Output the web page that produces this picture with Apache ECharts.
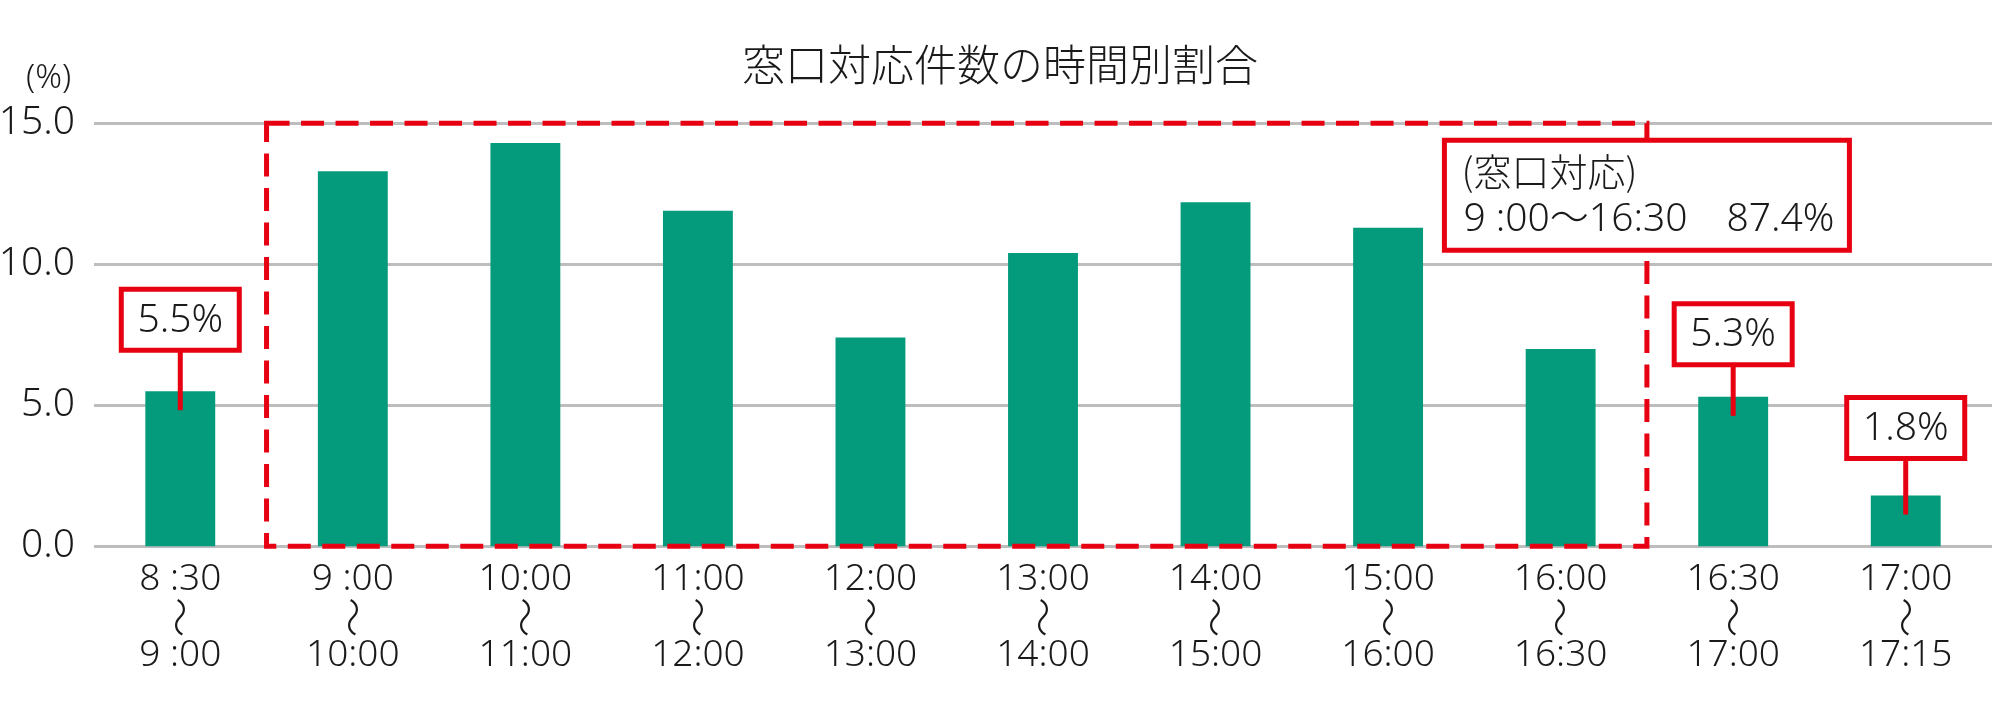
<!DOCTYPE html>
<html>
<head>
<meta charset="utf-8">
<script src="https://cdn.jsdelivr.net/npm/echarts@6/dist/echarts.min.js"></script>
<style>
html,body{margin:0;padding:0;background:#fff;}
#chart{width:2000px;height:708px;}
</style>
</head>
<body>
<div id="chart"></div>
<script>
// ---- data ----
const chartTitle = '窓口対応件数の時間別割合';
const unitLabel = '(%)';
const startTimes = ['8 :30', '9 :00', '10:00', '11:00', '12:00', '13:00', '14:00', '15:00', '16:00', '16:30', '17:00'];
const endTimes   = ['9 :00', '10:00', '11:00', '12:00', '13:00', '14:00', '15:00', '16:00', '16:30', '17:00', '17:15'];
const rangeMark  = '～';
const shares     = [5.5, 13.3, 14.3, 11.9, 7.4, 10.4, 12.2, 11.3, 7.0, 5.3, 1.8];
const calloutIndex = [0, 9, 10];
const windowRange = [1, 8];
const windowTitle = '(窓口対応)';
const windowText = '9 :00～16:30　87.4%';

// ---- style ----
const RED = '#E60012';
const GREEN = '#039B7B';
const TEXT = '#1a1a1a';
const NUM_FONT = '"Noto Sans", "Noto Sans CJK JP", sans-serif';
const CJK_FONT = '"Noto Sans CJK JP", "Noto Sans", sans-serif';
const calloutLift = {0: 41, 9: 32, 10: 37};

const categories = startTimes.map((s, i) => s + '\n \n' + endTimes[i]);

const chart = echarts.init(document.getElementById('chart'));

function renderCallout(params, api) {
  const idx = api.value(0);
  const v = api.value(1);
  const p = api.coord([idx, v]);
  const lift = calloutLift[idx] !== undefined ? calloutLift[idx] : 35;
  const w = 118, h = 61;
  const bottom = p[1] - lift;
  const top = bottom - h;
  const txt = v.toFixed(1) + '%';
  return {
    type: 'group',
    children: [
      {type: 'line', shape: {x1: p[0], y1: p[1] + 19, x2: p[0], y2: bottom}, style: {stroke: RED, lineWidth: 5}},
      {type: 'rect', shape: {x: p[0] - w / 2, y: top, width: w, height: h}, style: {fill: '#fff', stroke: RED, lineWidth: 5}},
      {type: 'text', style: {text: txt, x: p[0], y: top + h / 2 + 1, align: 'center', verticalAlign: 'middle',
        fontSize: 39, fontWeight: 300, fontFamily: NUM_FONT, fill: TEXT}}
    ]
  };
}

function renderWave(params, api) {
  const p = api.coord([api.value(0), api.value(1)]);
  return {
    type: 'text', x: p[0], y: p[1] + 71, rotation: -Math.PI / 2,
    style: {text: rangeMark, x: 0, y: 0, align: 'center', verticalAlign: 'middle',
      fontSize: 40, fontWeight: 300, fontFamily: CJK_FONT, fill: TEXT}
  };
}

function renderWindow(params, api) {
  const a = api.value(0), b = api.value(2);
  const pTop = api.coord([a, api.value(1)]);
  const pBot = api.coord([b, api.value(3)]);
  const band = api.size([1, 0])[0];
  const left = pTop[0] - band / 2;
  const right = pBot[0] + band / 2;
  const top = pTop[1];
  const bottom = pBot[1];
  const bw = 405, bh = 110;
  const bx = right - bw / 2;
  const by = top + 17;
  return {
    type: 'group',
    children: [
      {type: 'rect', shape: {x: left, y: top, width: right - left, height: bottom - top},
        style: {fill: 'none', stroke: RED, lineWidth: 5, lineDash: [23, 11.5]}},
      {type: 'rect', shape: {x: bx, y: by, width: bw, height: bh}, style: {fill: '#fff', stroke: RED, lineWidth: 5}},
      {type: 'text', style: {text: windowTitle, x: bx + 17, y: by + 31, align: 'left', verticalAlign: 'middle',
        fontSize: 38, fontWeight: 300, fontFamily: CJK_FONT, fill: TEXT}},
      {type: 'text', style: {text: windowText, x: bx + 19, y: by + 80, align: 'left', verticalAlign: 'middle',
        fontSize: 39, fontWeight: 300, fontFamily: NUM_FONT, fill: TEXT}}
    ]
  };
}

chart.setOption({
  animation: false,
  backgroundColor: '#fff',
  title: {
    text: chartTitle, left: 'center', top: 38,
    textStyle: {fontSize: 43, fontWeight: 300, fontFamily: CJK_FONT, color: TEXT}
  },
  graphic: [{
    type: 'text', left: 26, top: 62,
    style: {text: unitLabel, fontSize: 33, fontWeight: 300, fontFamily: NUM_FONT, fill: TEXT}
  }],
  grid: {left: 94, right: 8, top: 123.3, bottom: 161.7, containLabel: false, outerBoundsMode: 'none'},
  xAxis: {
    type: 'category',
    data: categories,
    axisLine: {show: false},
    axisTick: {show: false},
    axisLabel: {
      margin: 14, fontSize: 37, fontWeight: 300, lineHeight: 38, fontFamily: NUM_FONT, color: TEXT, interval: 0
    }
  },
  yAxis: {
    type: 'value', min: 0, max: 15, interval: 5,
    axisLine: {show: false}, axisTick: {show: false},
    splitLine: {lineStyle: {color: '#BDBDBD', width: 3}},
    axisLabel: {margin: 19, fontSize: 39, fontWeight: 300, fontFamily: NUM_FONT, color: TEXT, formatter: v => v.toFixed(1)}
  },
  series: [
    {
      type: 'bar', data: shares, barWidth: '40.5%',
      itemStyle: {color: GREEN}, z: 2, silent: true
    },
    {
      type: 'custom', renderItem: renderWave, z: 3, silent: true, clip: false,
      encode: {x: 0, y: 1},
      data: startTimes.map((_, i) => [i, 0])
    },
    {
      type: 'custom', renderItem: renderWindow, z: 5, silent: true, clip: false,
      encode: {x: [0, 2], y: [1, 3]},
      data: [[windowRange[0], 15, windowRange[1], 0]]
    },
    {
      type: 'custom', renderItem: renderCallout, z: 6, silent: true, clip: false,
      encode: {x: 0, y: 1},
      data: calloutIndex.map(i => [i, shares[i]])
    }
  ]
});
</script>
</body>
</html>
